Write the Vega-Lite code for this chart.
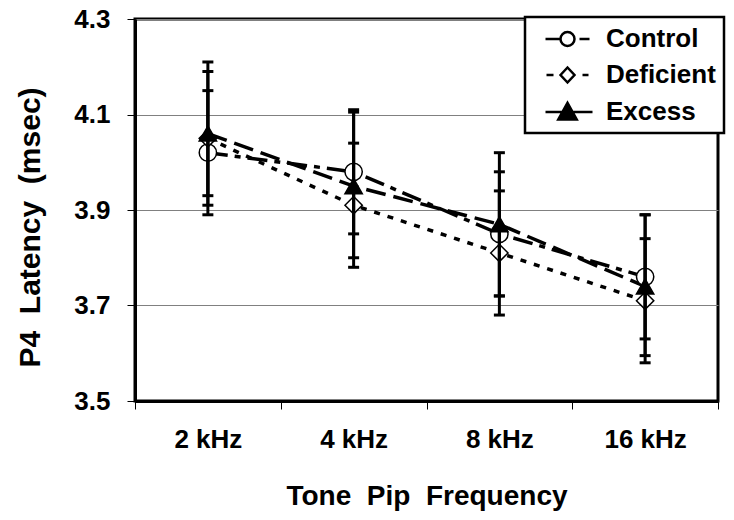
{
  "$schema": "https://vega.github.io/schema/vega-lite/v6.json",
  "width": 583,
  "height": 382,
  "autosize": {"type": "none"},
  "padding": {"left": 135, "top": 19, "right": 16, "bottom": 119},
  "background": "white",
  "config": {
    "font": "Liberation Sans",
    "view": {"stroke": "black", "strokeWidth": 3},
    "axis": {
      "labelFont": "Liberation Sans",
      "titleFont": "Liberation Sans",
      "labelFontWeight": "bold",
      "titleFontWeight": "bold",
      "labelColor": "black",
      "titleColor": "black",
      "domainColor": "black",
      "tickColor": "black"
    }
  },
  "data": {
    "values": [
      {"group": "Control", "freq": "2 kHz", "mean": 4.02, "lo": 3.89, "hi": 4.15},
      {"group": "Control", "freq": "4 kHz", "mean": 3.98, "lo": 3.85, "hi": 4.11},
      {"group": "Control", "freq": "8 kHz", "mean": 3.85, "lo": 3.72, "hi": 3.98},
      {"group": "Control", "freq": "16 kHz", "mean": 3.76, "lo": 3.63, "hi": 3.89},
      {"group": "Deficient", "freq": "2 kHz", "mean": 4.05, "lo": 3.91, "hi": 4.19},
      {"group": "Deficient", "freq": "4 kHz", "mean": 3.91, "lo": 3.78, "hi": 4.04},
      {"group": "Deficient", "freq": "8 kHz", "mean": 3.81, "lo": 3.68, "hi": 3.94},
      {"group": "Deficient", "freq": "16 kHz", "mean": 3.71, "lo": 3.58, "hi": 3.84},
      {"group": "Excess", "freq": "2 kHz", "mean": 4.06, "lo": 3.93, "hi": 4.21},
      {"group": "Excess", "freq": "4 kHz", "mean": 3.95, "lo": 3.8, "hi": 4.105},
      {"group": "Excess", "freq": "8 kHz", "mean": 3.87, "lo": 3.72, "hi": 4.02},
      {"group": "Excess", "freq": "16 kHz", "mean": 3.74, "lo": 3.595, "hi": 3.89}
    ]
  },
  "layer": [
    {
      "mark": {"type": "line", "strokeWidth": 3.5, "color": "black"},
      "encoding": {
        "x": {
          "field": "freq", "type": "nominal",
          "sort": ["2 kHz", "4 kHz", "8 kHz", "16 kHz"],
          "scale": {"type": "band", "paddingInner": 0, "paddingOuter": 0},
          "axis": {
            "title": "Tone\u00a0\u00a0Pip\u00a0\u00a0Frequency",
            "labelFontSize": 26,
            "labelPadding": 17,
            "labelAngle": 0,
            "tickBand": "extent",
            "tickSize": 8,
            "tickWidth": 1,
            "domainWidth": 3,
            "grid": false,
            "titleFontSize": 28,
            "titleX": 291.5,
            "titleY": 103,
            "titleBaseline": "alphabetic"
          }
        },
        "y": {
          "field": "mean", "type": "quantitative",
          "title": "P4\u00a0\u00a0Latency\u00a0\u00a0(msec)",
          "scale": {"domain": [3.5, 4.3], "nice": false, "zero": false},
          "axis": {
            "values": [3.5, 3.7, 3.9, 4.1, 4.3],
            "format": ".1f",
            "labelFontSize": 26,
            "labelPadding": 17,
            "tickSize": 8,
            "tickWidth": 1,
            "domainWidth": 3,
            "grid": true,
            "gridColor": "#808080",
            "gridWidth": 1,
            "titleFontSize": 30,
            "titleAngle": -90,
            "titleX": -96,
            "titleY": 208,
            "titleAlign": "center",
            "titleBaseline": "alphabetic"
          }
        },
        "strokeDash": {
          "field": "group", "type": "nominal",
          "scale": {"domain": ["Control", "Deficient", "Excess"], "range": [[20, 7, 6, 7], [6, 8], [20, 8]]},
          "legend": null
        }
      }
    },
    {
      "mark": {"type": "point", "filled": true, "size": 300, "stroke": "black", "strokeWidth": 1.5, "opacity": 1},
      "encoding": {
        "x": {"field": "freq", "type": "nominal", "sort": ["2 kHz", "4 kHz", "8 kHz", "16 kHz"]},
        "y": {"field": "mean", "type": "quantitative"},
        "shape": {
          "field": "group", "type": "nominal",
          "scale": {"domain": ["Control", "Deficient", "Excess"], "range": ["circle", "diamond", "triangle-up"]},
          "legend": null
        },
        "fill": {
          "field": "group", "type": "nominal",
          "scale": {"domain": ["Control", "Deficient", "Excess"], "range": ["white", "white", "black"]},
          "legend": null
        }
      }
    },
    {
      "mark": {"type": "rule", "strokeWidth": 3, "color": "black"},
      "encoding": {
        "x": {"field": "freq", "type": "nominal", "sort": ["2 kHz", "4 kHz", "8 kHz", "16 kHz"]},
        "y": {"field": "lo", "type": "quantitative"},
        "y2": {"field": "hi"}
      }
    },
    {
      "mark": {"type": "tick", "thickness": 3, "size": 11, "color": "black", "opacity": 1},
      "encoding": {
        "x": {"field": "freq", "type": "nominal", "sort": ["2 kHz", "4 kHz", "8 kHz", "16 kHz"]},
        "y": {"field": "lo", "type": "quantitative"}
      }
    },
    {
      "mark": {"type": "tick", "thickness": 3, "size": 11, "color": "black", "opacity": 1},
      "encoding": {
        "x": {"field": "freq", "type": "nominal", "sort": ["2 kHz", "4 kHz", "8 kHz", "16 kHz"]},
        "y": {"field": "hi", "type": "quantitative"}
      }
    },
    {
      "mark": {"type": "point", "filled": true, "size": 625, "opacity": 0, "strokeWidth": 2.5},
      "encoding": {
        "x": {"field": "freq", "type": "nominal", "sort": ["2 kHz", "4 kHz", "8 kHz", "16 kHz"]},
        "y": {"field": "mean", "type": "quantitative"},
        "shape": {
          "field": "group", "type": "nominal",
          "scale": {
            "domain": ["Control", "Deficient", "Excess"],
            "range": [
              "M -0.12 0 L 1.0 0 M 2.2 0 A 0.56 0.56 0 1 1 1.08 0 A 0.56 0.56 0 1 1 2.2 0 Z M 2.6 0 L 3.4 0",
              "M -0.04 0 L 0.52 0 M 1.08 0 L 1.64 -0.6 L 2.2 0 L 1.64 0.6 Z M 2.84 0 L 3.32 0",
              "M -0.12 0 L 1.16 0 M 1.64 -0.74 L 2.38 0.6 L 0.9 0.6 Z M 2.12 0 L 3.64 0"
            ]
          },
          "legend": {
            "orient": "none", "legendX": 390, "legendY": -2, "title": null,
            "padding": 8, "rowPadding": 9, "symbolSize": 625,
            "labelFontSize": 26, "labelFont": "Liberation Sans", "labelFontWeight": "bold", "labelColor": "black",
            "labelOffset": 45, "strokeColor": "black", "fillColor": "white",
            "symbolStrokeWidth": 2.5, "symbolStrokeColor": "black", "symbolOpacity": 1,
            "encode": {"legend": {"update": {"strokeWidth": {"value": 2.5}}}}
          }
        },
        "fill": {
          "field": "group", "type": "nominal",
          "scale": {"domain": ["Control", "Deficient", "Excess"], "range": ["white", "white", "black"]},
          "legend": {
            "orient": "none", "legendX": 390, "legendY": -2, "title": null,
            "padding": 8, "rowPadding": 9, "symbolSize": 625,
            "labelFontSize": 26, "labelFont": "Liberation Sans", "labelFontWeight": "bold", "labelColor": "black",
            "labelOffset": 45, "strokeColor": "black", "fillColor": "white",
            "symbolStrokeWidth": 2.5, "symbolStrokeColor": "black", "symbolOpacity": 1,
            "encode": {"legend": {"update": {"strokeWidth": {"value": 2.5}}}}
          }
        },
        "stroke": {
          "field": "group", "type": "nominal",
          "scale": {"domain": ["Control", "Deficient", "Excess"], "range": ["black", "black", "black"]},
          "legend": {
            "orient": "none", "legendX": 390, "legendY": -2, "title": null,
            "padding": 8, "rowPadding": 9, "symbolSize": 625,
            "labelFontSize": 26, "labelFont": "Liberation Sans", "labelFontWeight": "bold", "labelColor": "black",
            "labelOffset": 45, "strokeColor": "black", "fillColor": "white",
            "symbolStrokeWidth": 2.5, "symbolStrokeColor": "black", "symbolOpacity": 1,
            "encode": {"legend": {"update": {"strokeWidth": {"value": 2.5}}}}
          }
        }
      }
    }
  ],
  "resolve": {"scale": {"shape": "independent", "fill": "independent", "stroke": "independent"}}
}
